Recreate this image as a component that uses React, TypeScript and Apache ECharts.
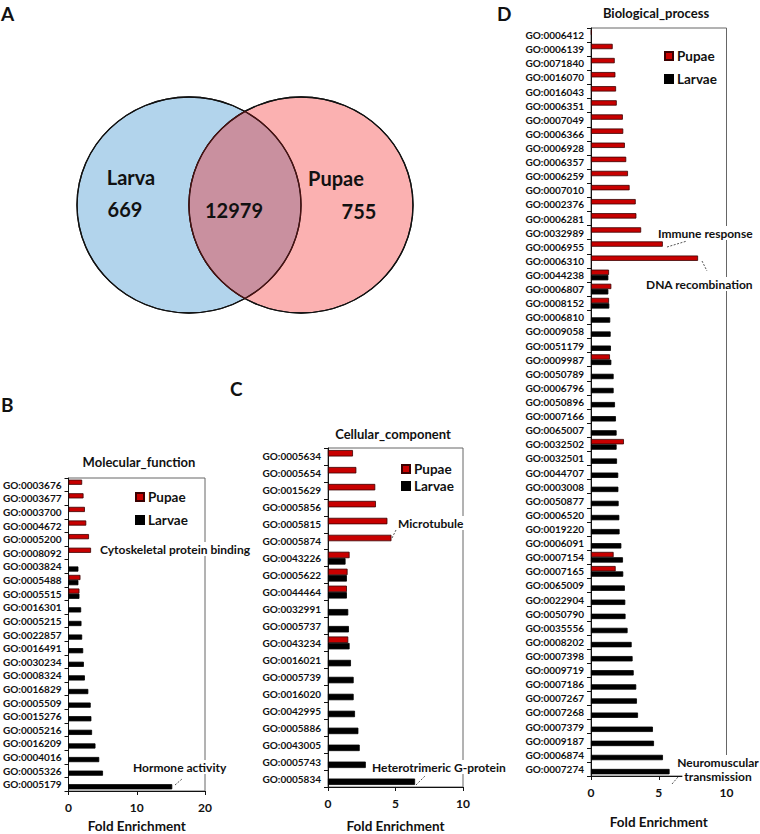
import React, { useEffect, useRef } from "react";
import * as echarts from "echarts";

const FONT = 'Lato, "Open Sans", sans-serif';

// Venn counts
const VENN_LABELS = ["Larva", "Pupae"];
const VENN_COUNTS = [669, 12979, 755];

// Panel B: Molecular_function
const B_CATS = [
  "GO:0003676", "GO:0003677", "GO:0003700", "GO:0004672", "GO:0005200", "GO:0008092",
  "GO:0003824", "GO:0005488", "GO:0005515", "GO:0016301", "GO:0005215", "GO:0022857",
  "GO:0016491", "GO:0030234", "GO:0008324", "GO:0016829", "GO:0005509", "GO:0015276",
  "GO:0005216", "GO:0016209", "GO:0004016", "GO:0005326", "GO:0005179",
];
const B_PUPAE = [2.0, 2.2, 2.4, 2.6, 3.0, 3.3, null, 1.75, 1.6, null, null, null,
  null, null, null, null, null, null, null, null, null, null, null];
const B_LARVAE = [null, null, null, null, null, null, 1.45, 1.45, 1.6, 1.85, 1.9, 2.0,
  2.15, 2.25, 2.4, 2.9, 3.25, 3.35, 3.45, 3.95, 4.5, 5.05, 15.2];

// Panel C: Cellular_component
const C_CATS = [
  "GO:0005634", "GO:0005654", "GO:0015629", "GO:0005856", "GO:0005815", "GO:0005874",
  "GO:0043226", "GO:0005622", "GO:0044464", "GO:0032991", "GO:0005737", "GO:0043234",
  "GO:0016021", "GO:0005739", "GO:0016020", "GO:0042995", "GO:0005886", "GO:0043005",
  "GO:0005743", "GO:0005834",
];
const C_PUPAE = [1.85, 2.1, 3.5, 3.55, 4.4, 4.7, 1.6, 1.45, 1.4, null, null, 1.5,
  null, null, null, null, null, null, null, null];
const C_LARVAE = [null, null, null, null, null, null, 1.3, 1.4, 1.4, 1.5, 1.55, 1.6,
  1.7, 1.9, 1.9, 2.0, 2.25, 2.35, 2.8, 6.45];

// Panel D: Biological_process
const D_CATS = [
  "GO:0006412", "GO:0006139", "GO:0071840", "GO:0016070", "GO:0016043", "GO:0006351",
  "GO:0007049", "GO:0006366", "GO:0006928", "GO:0006357", "GO:0006259", "GO:0007010",
  "GO:0002376", "GO:0006281", "GO:0032989", "GO:0006955", "GO:0006310", "GO:0044238",
  "GO:0006807", "GO:0008152", "GO:0006810", "GO:0009058", "GO:0051179", "GO:0009987",
  "GO:0050789", "GO:0006796", "GO:0050896", "GO:0007166", "GO:0065007", "GO:0032502",
  "GO:0032501", "GO:0044707", "GO:0003008", "GO:0050877", "GO:0006520", "GO:0019220",
  "GO:0006091", "GO:0007154", "GO:0007165", "GO:0065009", "GO:0022904", "GO:0050790",
  "GO:0035556", "GO:0008202", "GO:0007398", "GO:0009719", "GO:0007186", "GO:0007267",
  "GO:0007268", "GO:0007379", "GO:0009187", "GO:0006874", "GO:0007274",
];
const D_PUPAE = [0.05, 1.6, 1.75, 1.8, 1.85, 1.9, 2.35, 2.38, 2.5, 2.6, 2.73, 2.85,
  3.3, 3.35, 3.7, 5.3, 7.9, 1.33, 1.5, 1.33, null, null, null, 1.4,
  null, null, null, null, null, 2.43, null, null, null, null, null, null,
  null, 1.67, 1.82, null, null, null, null, null, null, null, null, null,
  null, null, null, null, null];
const D_LARVAE = [null, null, null, null, null, null, null, null, null, null, null, null,
  null, null, null, null, null, 1.28, 1.28, 1.35, 1.42, 1.45, 1.47, 1.5,
  1.67, 1.67, 1.77, 1.84, 1.89, 1.89, 1.92, 2.01, 2.02, 2.04, 2.09, 2.11,
  2.24, 2.36, 2.38, 2.5, 2.53, 2.55, 2.7, 3.0, 3.07, 3.15, 3.34, 3.39,
  3.47, 4.57, 4.65, 5.31, 5.8];

const RED = "#c80000";

function txt(x: number, y: number, text: string, size: number, extra: any = {}) {
  return {
    type: "text",
    x,
    y,
    z: 100,
    style: {
      text,
      fontFamily: FONT,
      fontSize: size,
      fontWeight: "bold",
      fill: "#111",
      textAlign: extra.align || "left",
      align: extra.align || "left",
      textVerticalAlign: "middle",
      verticalAlign: "middle",
      backgroundColor: extra.bg,
      padding: extra.bg ? [1, 2] : undefined,
    },
  };
}

function leader(x1: number, y1: number, x2: number, y2: number) {
  return {
    type: "line",
    z: 100,
    shape: { x1, y1, x2, y2 },
    style: { stroke: "#555", lineWidth: 1, lineDash: [2, 1.5] },
  };
}

function ellipsePts(cx: number, cy: number, rx: number, ry: number, a0: number, a1: number, n: number) {
  const pts: number[][] = [];
  for (let i = 0; i <= n; i++) {
    const t = ((a0 + ((a1 - a0) * i) / n) * Math.PI) / 180;
    pts.push([cx + rx * Math.cos(t), cy + ry * Math.sin(t)]);
  }
  return pts;
}

function makeGrid(left: number, top: number, width: number, height: number) {
  return {
    left, top, width, height,
    show: true,
    borderColor: "#666",
    borderWidth: 1,
    backgroundColor: "transparent",
    containLabel: false,
  };
}

function makeX(idx: number, max: number, interval: number, nameGap: number) {
  return {
    type: "value",
    gridIndex: idx,
    min: 0,
    max,
    interval,
    splitLine: { show: false },
    axisLine: { show: true, lineStyle: { color: "#111", width: 1 } },
    axisTick: { show: true, length: 4, lineStyle: { color: "#111" } },
    axisLabel: { fontFamily: FONT, fontWeight: "bold", fontSize: 12, color: "#111", margin: 10 },
    name: "Fold Enrichment",
    nameLocation: "middle",
    nameGap,
    nameTextStyle: { fontFamily: FONT, fontWeight: "bold", fontSize: 13.5, color: "#111" },
  };
}

function makeY(idx: number, cats: string[]) {
  return {
    type: "category",
    gridIndex: idx,
    data: cats,
    inverse: true,
    axisLine: { show: true, lineStyle: { color: "#111", width: 1 } },
    axisTick: { show: true, length: 4, interval: 0, lineStyle: { color: "#111" } },
    axisLabel: { interval: 0, fontFamily: FONT, fontWeight: "bold", fontSize: 10, color: "#111", margin: 7 },
    splitLine: { show: false },
  };
}

function barSeries(name: string, idx: number, data: (number | null)[]) {
  const isP = name === "Pupae";
  return {
    type: "bar",
    name,
    xAxisIndex: idx,
    yAxisIndex: idx,
    data,
    barGap: "0%",
    barCategoryGap: "24%",
    itemStyle: {
      color: isP ? RED : "#000",
      borderColor: isP ? "#3a0000" : "#000",
      borderWidth: 0.8,
    },
  };
}

function makeLegend(left: number, top: number, gap: number) {
  return {
    left,
    top,
    orient: "vertical",
    data: ["Pupae", "Larvae"],
    icon: "rect",
    itemWidth: 8,
    itemHeight: 8,
    itemGap: gap,
    textStyle: { fontFamily: FONT, fontWeight: "bold", fontSize: 13.5, color: "#111", padding: [0, 0, 0, -1] },
    selectedMode: false,
  };
}

export default function App() {
  const ref = useRef<HTMLDivElement>(null);
  useEffect(() => {
    if (!ref.current) return;
    const chart = echarts.init(ref.current, undefined, { renderer: "svg" });

    const lcx = 189, rcx = 301, cy = 205, rx = 112, ry = 108;
    const lens = [
      ...ellipsePts(lcx, cy, rx, ry, -60, 60, 40),
      ...ellipsePts(rcx, cy, rx, ry, 120, 240, 40),
    ];

    const graphic: any[] = [
      // Venn
      { type: "ellipse", z: 10, shape: { cx: lcx, cy, rx, ry }, style: { fill: "#b2d4ec", stroke: "#111", lineWidth: 1.3 } },
      { type: "ellipse", z: 11, shape: { cx: rcx, cy, rx, ry }, style: { fill: "#fbb1b1", stroke: "#111", lineWidth: 1.3 } },
      { type: "polygon", z: 12, shape: { points: lens }, style: { fill: "#c9909f", stroke: "none" } },
      { type: "ellipse", z: 13, shape: { cx: lcx, cy, rx, ry }, style: { fill: "none", stroke: "#111", lineWidth: 1.3 } },
      { type: "ellipse", z: 13, shape: { cx: rcx, cy, rx, ry }, style: { fill: "none", stroke: "#111", lineWidth: 1.3 } },
      { type: "polyline", z: 14, shape: { points: ellipsePts(lcx, cy, rx, ry, -60, 60, 40) }, style: { fill: "none", stroke: "#4a1212", lineWidth: 1.3 } },
      { type: "polyline", z: 14, shape: { points: ellipsePts(rcx, cy, rx, ry, 120, 240, 40) }, style: { fill: "none", stroke: "#4a1212", lineWidth: 1.3 } },
      txt(131, 177, VENN_LABELS[0], 20, { align: "center" }),
      txt(125, 209, String(VENN_COUNTS[0]), 20, { align: "center" }),
      txt(234, 210, String(VENN_COUNTS[1]), 20, { align: "center" }),
      txt(336, 178, VENN_LABELS[1], 20, { align: "center" }),
      txt(359, 211, String(VENN_COUNTS[2]), 20, { align: "center" }),
      // Panel letters
      txt(1, 13, "A", 19),
      txt(1, 404, "B", 19),
      txt(230, 388, "C", 19),
      txt(497, 13, "D", 19),
      // Panel titles
      txt(139, 462, "Molecular_function", 13, { align: "center" }),
      txt(393, 434, "Cellular_component", 13, { align: "center" }),
      txt(656, 13, "Biological_process", 13, { align: "center" }),
      // Annotations B
      txt(98, 549, "Cytoskeletal protein binding", 12, { bg: "#fff" }),
      txt(131, 767, "Hormone activity", 12, { bg: "#fff" }),
      leader(175, 785, 182, 779),
      // Annotations C
      txt(396, 523, "Microtubule", 12, { bg: "#fff" }),
      leader(392, 538, 396, 530),
      txt(370, 767, "Heterotrimeric G-protein", 12, { bg: "#fff" }),
      leader(416, 785, 425, 776),
      // Annotations D
      txt(656, 233, "Immune response", 12, { bg: "#fff" }),
      leader(667, 247, 687, 241),
      txt(644, 284, "DNA recombination", 12, { bg: "#fff" }),
      leader(702, 261, 707, 271),
      txt(718, 762, "Neuromuscular", 12, { bg: "#fff", align: "center" }),
      txt(718, 776, "transmission", 12, { bg: "#fff", align: "center" }),
      leader(672, 784, 678, 777),
    ];

    chart.setOption({
      animation: false,
      backgroundColor: "#fff",
      textStyle: { fontFamily: FONT },
      grid: [
        makeGrid(68, 478, 137, 315),
        makeGrid(328, 448, 135, 341),
        makeGrid(591, 28, 135.5, 753),
      ],
      xAxis: [makeX(0, 20, 10, 28), makeX(1, 10, 5, 32), makeX(2, 10, 5, 39)],
      yAxis: [makeY(0, B_CATS), makeY(1, C_CATS), makeY(2, D_CATS)],
      legend: [makeLegend(130, 485, 9), makeLegend(396, 457, 3), makeLegend(659, 44, 9)],
      series: [
        barSeries("Pupae", 0, B_PUPAE),
        barSeries("Larvae", 0, B_LARVAE),
        barSeries("Pupae", 1, C_PUPAE),
        barSeries("Larvae", 1, C_LARVAE),
        barSeries("Pupae", 2, D_PUPAE),
        barSeries("Larvae", 2, D_LARVAE),
      ],
      graphic,
    });
    return () => chart.dispose();
  }, []);
  return (
    <div
      ref={ref}
      style={{ position: "fixed", left: 0, top: 0, width: 760, height: 834, background: "#fff" }}
    />
  );
}
